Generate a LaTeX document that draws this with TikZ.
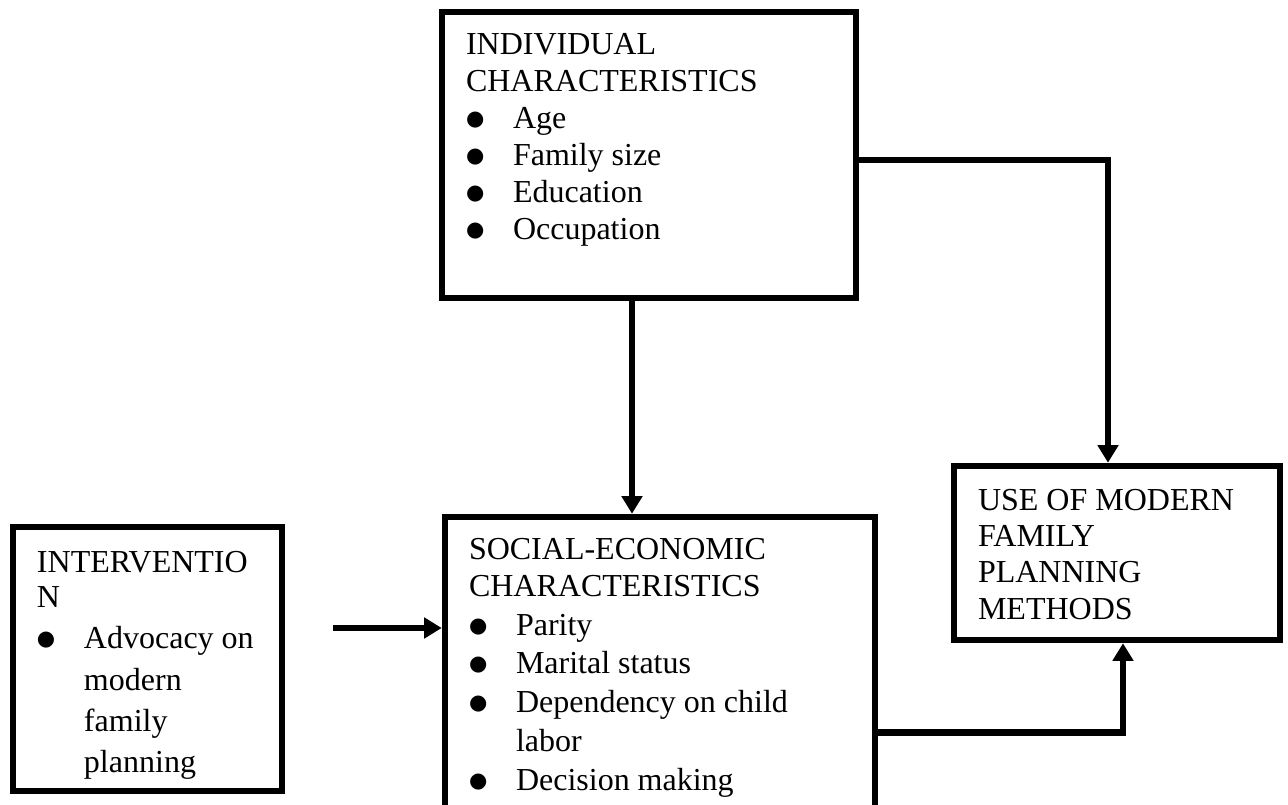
\documentclass[tikz,border=0pt]{standalone}
\usepackage{fontspec}
\setmainfont{Liberation Serif}
\newfontfamily\bulletfont{DejaVu Sans}
\usetikzlibrary{positioning}
\usetikzlibrary{arrows.meta}

\newcommand{\listbul}{\makebox[18.8pt][l]{\raisebox{1.2pt}{\bulletfont\fontsize{8.4}{8}\selectfont ●}}}
\newcommand{\listgap}{\hspace*{18.8pt}}

\begin{document}
\begin{tikzpicture}[
        x=0.4pt, y=-0.4pt,
        boxnode/.style={rectangle, draw, line width=2.6pt, inner sep=0pt},
        textnode/.style={inner sep=0pt, align=left},
        link/.style={line width=2.6pt, -{Triangle[width=8pt,length=7pt]}},
    ]
    \useasboundingbox (0,0) rectangle (1288,805);

    % Boxes
    \node[boxnode, minimum width=165.6pt, minimum height=114.4pt] (indiv)  at (649,155)   {};
    \node[boxnode, minimum width=172pt,   minimum height=116.4pt] (social) at (660,662.5) {};
    \node[boxnode, minimum width=107.6pt, minimum height=105.6pt] (interv) at (147.5,659) {};
    \node[boxnode, minimum width=130.4pt, minimum height=69.6pt]  (use)    at (1117,553)  {};

    % Texts
    \node[textnode, font=\fontsize{12.8}{14.8}\selectfont] (indiv_text) [below right=9.8pt and 10.7pt of indiv.north west]
        {INDIVIDUAL\\CHARACTERISTICS\\\listbul Age\\\listbul Family size\\\listbul Education\\\listbul Occupation};
    \node[textnode, font=\fontsize{12.8}{15.5}\selectfont] (social_text) [below right=9.6pt and 10.7pt of social.north west]
        {SOCIAL-ECONOMIC\\[-0.7pt]CHARACTERISTICS\\\listbul Parity\\\listbul Marital status\\\listbul Dependency on child\\\listgap labor\\\listbul Decision making};
    \node[textnode, font=\fontsize{12.8}{16.5}\selectfont] (interv_text) [below right=11pt and 10.7pt of interv.north west]
        {INTERVENTIO\\[-2.6pt]N\\\listbul Advocacy on\\\listgap modern\\\listgap family\\\listgap planning};
    \node[textnode, font=\fontsize{12.8}{14.5}\selectfont] (use_text) [below right=10.4pt and 10.7pt of use.north west]
        {USE OF MODERN\\FAMILY\\PLANNING\\METHODS};

    % Lines
    \coordinate (adv_start) at (333,628);
    \draw[link] ([xshift=-6.8pt]indiv.south) -- ([xshift=-6.8pt]indiv.south |- social.north);
    \draw[link] ([yshift=-2pt]indiv.east) -| ([xshift=-3.6pt]use.north);
    \draw[link] ([yshift=-28pt]social.east) -| ([xshift=2.4pt]use.south);
    \draw[link] (adv_start) -- (adv_start -| social.west);
\end{tikzpicture}
\end{document}
